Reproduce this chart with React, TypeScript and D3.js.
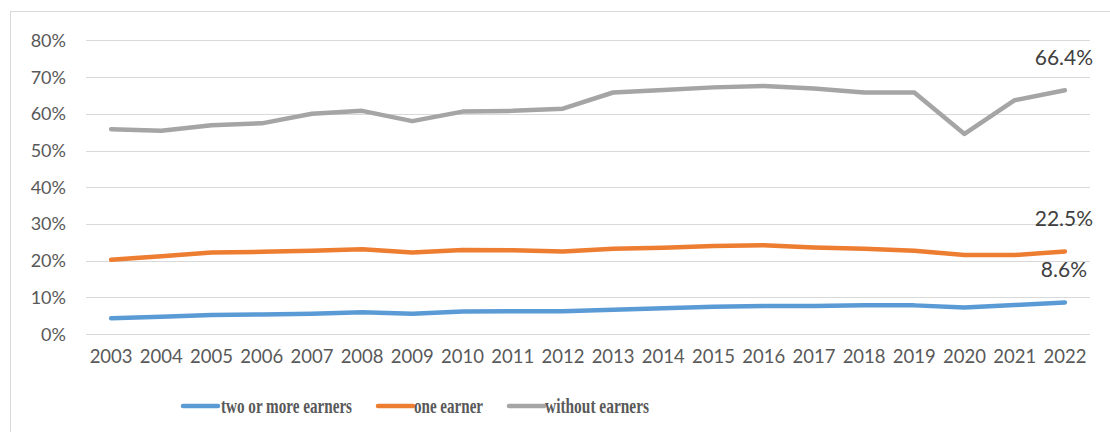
import React from "react";
import * as d3 from "d3";

const years = ["2003","2004","2005","2006","2007","2008","2009","2010","2011","2012","2013","2014","2015","2016","2017","2018","2019","2020","2021","2022"];
const twoOrMore = [4.3,4.7,5.2,5.3,5.5,5.9,5.5,6.1,6.2,6.2,6.6,7.0,7.4,7.6,7.6,7.8,7.8,7.2,7.9,8.6];
const oneEarner = [20.2,21.2,22.2,22.4,22.7,23.1,22.2,22.9,22.8,22.5,23.2,23.5,24.0,24.2,23.6,23.2,22.7,21.5,21.5,22.5];
const withoutEarners = [55.8,55.4,56.9,57.4,60.0,60.8,58.0,60.6,60.8,61.4,65.8,66.5,67.2,67.6,66.9,65.8,65.8,54.5,63.7,66.4];
const yTicks = [0,10,20,30,40,50,60,70,80];
const seriesNames = ["two or more earners","one earner","without earners"];
const seriesColors = ["#5B9BD5","#ED7D31","#A5A5A5"];
const lastLabels = ["8.6%","22.5%","66.4%"];

export default function App() {
  const W = 1110, H = 432;
  const x = d3.scaleBand().domain(years).range([86, 1090]);
  const y = d3.scaleLinear().domain([0, 80]).range([334, 40.4]);
  const cx = (d: string) => (x(d) as number) + x.bandwidth() / 2;
  const series = [twoOrMore, oneEarner, withoutEarners];
  const line = d3.line<number>().x((_, i) => cx(years[i])).y(v => y(v));
  const legendItems = [
    { lineX: 183, textX: 221, textLen: 131 },
    { lineX: 378, textX: 414, textLen: 69 },
    { lineX: 509, textX: 545, textLen: 104 },
  ];
  return (
    <svg width={W} height={H} style={{ position: "absolute", left: 0, top: 0, background: "#fff" }}>
      <rect x={10.5} y={11.5} width={W + 10} height={H + 10} fill="#fff" stroke="#D9D9D9" strokeWidth={1} />
      {yTicks.map(t => (
        <g key={t}>
          <line x1={86} x2={1090} y1={Math.round(y(t)) + 0.5} y2={Math.round(y(t)) + 0.5} stroke="#D9D9D9" strokeWidth={1.2} />
          <text x={66} y={y(t) + 6.5} textAnchor="end" fontFamily="Lato" fontSize={18} fill="#595959">{t}%</text>
        </g>
      ))}
      {years.map(yr => (
        <text key={yr} x={cx(yr)} y={363} textAnchor="middle" fontFamily="Lato" fontSize={18.5} fill="#595959">{yr}</text>
      ))}
      {series.map((s, i) => (
        <path key={i} d={line(s) || ""} fill="none" stroke={seriesColors[i]} strokeWidth={4.5} strokeLinecap="round" strokeLinejoin="round" />
      ))}
      {series.map((s, i) => (
        <text key={"l" + i} x={cx(years[years.length - 1]) - 1} y={y(s[s.length - 1]) - 25} textAnchor="middle" fontFamily="Lato" fontSize={21} fill="#404040">{lastLabels[i]}</text>
      ))}
      {legendItems.map((it, i) => (
        <g key={"lg" + i}>
          <line x1={it.lineX} x2={it.lineX + 35} y1={406} y2={406} stroke={seriesColors[i]} strokeWidth={4.5} strokeLinecap="round" />
          <text x={it.textX} y={413} fontFamily="Liberation Serif" fontWeight="bold" fontSize={22} fill="#595959" textLength={it.textLen} lengthAdjust="spacingAndGlyphs">{seriesNames[i]}</text>
        </g>
      ))}
    </svg>
  );
}
